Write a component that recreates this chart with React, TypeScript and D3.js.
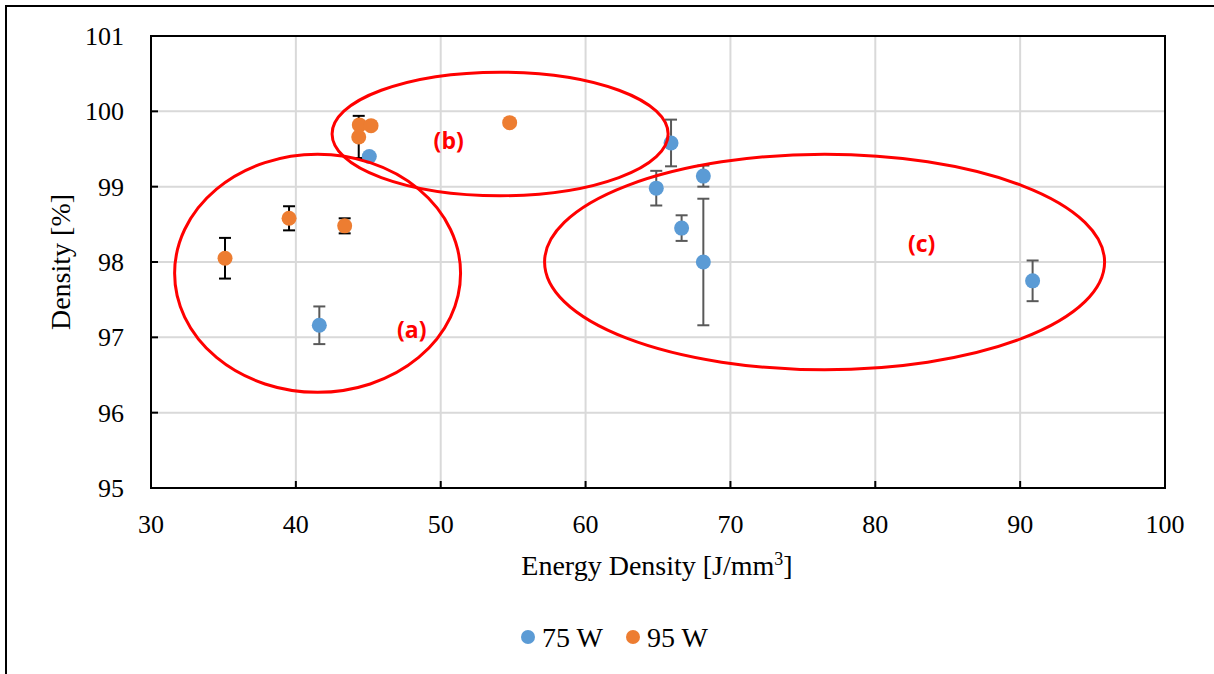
import React, { useEffect, useRef } from "react";
import * as d3 from "d3";

// energy density [J/mm3], density [%], error (+/-)
const blueX = [45.07, 41.62, 65.9, 64.88, 68.13, 66.63, 68.13, 90.86];
const blueY = [99.4, 97.16, 99.58, 98.98, 99.14, 98.45, 98.0, 97.75];
const blueErr = [0, 0.25, 0.31, 0.23, 0.14, 0.17, 0.84, 0.27];

const orangeX = [35.11, 39.53, 43.37, 44.38, 45.19, 44.34, 54.76];
const orangeY = [98.05, 98.58, 98.48, 99.82, 99.81, 99.66, 99.85];
const orangeErr = [0.27, 0.16, 0.1, 0, 0, 0.28, 0];

const xTicks = [30, 40, 50, 60, 70, 80, 90, 100];
const yTicks = [95, 96, 97, 98, 99, 100, 101];

// highlight ellipses: centre x, centre y, radius x, radius y (data units)
const groupLabels = ["(a)", "(b)", "(c)"];
const groupCx = [41.5, 54.1, 76.5];
const groupCy = [97.85, 99.7, 98.0];
const groupRx = [9.87, 11.6, 19.33];
const groupRy = [1.58, 0.82, 1.43];
const groupLabelX = [48.0, 50.55, 83.2];
const groupLabelY = [97.1, 99.6, 98.24];

const series = [
  { name: "75 W", color: "#5b9bd5", errColor: "#595959", xs: blueX, ys: blueY, errs: blueErr },
  { name: "95 W", color: "#ed7d31", errColor: "#000000", xs: orangeX, ys: orangeY, errs: orangeErr },
];

const W = 1214;
const H = 674;

export default function App() {
  const ref = useRef<SVGSVGElement>(null);

  useEffect(() => {
    const svg = d3.select(ref.current);
    svg.selectAll("*").remove();

    const left = 151, right = 1165, top = 36, bottom = 488;
    const x = d3.scaleLinear().domain([30, 100]).range([left, right]);
    const y = d3.scaleLinear().domain([95, 101]).range([bottom, top]);
    const serif = "'Liberation Serif', 'Times New Roman', serif";

    // outer frame
    svg.append("rect")
      .attr("x", 6).attr("y", 6).attr("width", W + 20).attr("height", H + 20)
      .attr("fill", "white").attr("stroke", "#000").attr("stroke-width", 2);

    // grid
    svg.append("g").selectAll("line").data(xTicks.slice(1))
      .enter().append("line")
      .attr("x1", d => x(d)).attr("x2", d => x(d))
      .attr("y1", top).attr("y2", bottom)
      .attr("stroke", "#d9d9d9").attr("stroke-width", 2);
    svg.append("g").selectAll("line").data(yTicks.slice(1))
      .enter().append("line")
      .attr("x1", left).attr("x2", right)
      .attr("y1", d => y(d)).attr("y2", d => y(d))
      .attr("stroke", "#d9d9d9").attr("stroke-width", 2);

    // plot frame
    svg.append("rect")
      .attr("x", left).attr("y", top).attr("width", right - left).attr("height", bottom - top)
      .attr("fill", "none").attr("stroke", "#000").attr("stroke-width", 2);

    // inner ticks
    svg.append("g").selectAll("line").data(yTicks)
      .enter().append("line")
      .attr("x1", left).attr("x2", left + 7)
      .attr("y1", d => y(d)).attr("y2", d => y(d))
      .attr("stroke", "#000").attr("stroke-width", 2);
    svg.append("g").selectAll("line").data(xTicks)
      .enter().append("line")
      .attr("x1", d => x(d)).attr("x2", d => x(d))
      .attr("y1", bottom).attr("y2", bottom - 7)
      .attr("stroke", "#000").attr("stroke-width", 2);

    // tick labels
    svg.append("g").selectAll("text").data(yTicks)
      .enter().append("text")
      .attr("x", 124).attr("y", d => y(d) + 9)
      .attr("text-anchor", "end")
      .attr("font-family", serif).attr("font-size", 26)
      .text(d => d);
    svg.append("g").selectAll("text").data(xTicks)
      .enter().append("text")
      .attr("x", d => x(d)).attr("y", 533)
      .attr("text-anchor", "middle")
      .attr("font-family", serif).attr("font-size", 26)
      .text(d => d);

    // axis titles
    const xl = svg.append("text")
      .attr("x", 657).attr("y", 575)
      .attr("text-anchor", "middle")
      .attr("font-family", serif).attr("font-size", 28);
    xl.append("tspan").text("Energy Density [J/mm");
    xl.append("tspan").attr("font-size", 18).attr("dy", -10).text("3");
    xl.append("tspan").attr("dy", 10).text("]");

    svg.append("text")
      .attr("transform", "translate(70,262) rotate(-90)")
      .attr("text-anchor", "middle")
      .attr("font-family", serif).attr("font-size", 28)
      .text("Density [%]");

    // error bars and markers
    series.forEach(s => {
      const pts = s.xs.map((v, i) => ({ x: v, y: s.ys[i], e: s.errs[i] }));
      const eb = svg.append("g").attr("stroke", s.errColor).attr("stroke-width", 2);
      pts.filter(p => p.e > 0).forEach(p => {
        eb.append("line")
          .attr("x1", x(p.x)).attr("x2", x(p.x))
          .attr("y1", y(p.y + p.e)).attr("y2", y(p.y - p.e));
        [p.y + p.e, p.y - p.e].forEach(v => {
          eb.append("line")
            .attr("x1", x(p.x) - 6).attr("x2", x(p.x) + 6)
            .attr("y1", y(v)).attr("y2", y(v));
        });
      });
    });
    series.forEach(s => {
      const pts = s.xs.map((v, i) => ({ x: v, y: s.ys[i] }));
      svg.append("g").selectAll("circle").data(pts)
        .enter().append("circle")
        .attr("cx", d => x(d.x)).attr("cy", d => y(d.y))
        .attr("r", 7.5).attr("fill", s.color);
    });

    // highlight ellipses
    groupLabels.forEach((lab, i) => {
      svg.append("ellipse")
        .attr("cx", x(groupCx[i])).attr("cy", y(groupCy[i]))
        .attr("rx", x(groupCx[i] + groupRx[i]) - x(groupCx[i]))
        .attr("ry", y(groupCy[i]) - y(groupCy[i] + groupRy[i]))
        .attr("fill", "none").attr("stroke", "#ff0000").attr("stroke-width", 3);
      svg.append("text")
        .attr("x", x(groupLabelX[i])).attr("y", y(groupLabelY[i]) + 8)
        .attr("text-anchor", "middle")
        .attr("font-family", "'Open Sans', 'Liberation Sans', sans-serif")
        .attr("font-weight", "bold").attr("font-size", 23)
        .attr("fill", "#ff0000")
        .text(lab);
    });

    // legend
    const lg = svg.append("g");
    [528, 633].forEach((cx, i) => {
      lg.append("circle").attr("cx", cx).attr("cy", 637).attr("r", 7).attr("fill", series[i].color);
      lg.append("text")
        .attr("x", cx + 14).attr("y", 647)
        .attr("font-family", serif).attr("font-size", 28)
        .text(series[i].name);
    });
  }, []);

  return (
    <svg ref={ref} width={W} height={H} style={{ position: "absolute", left: 0, top: 0 }} />
  );
}
